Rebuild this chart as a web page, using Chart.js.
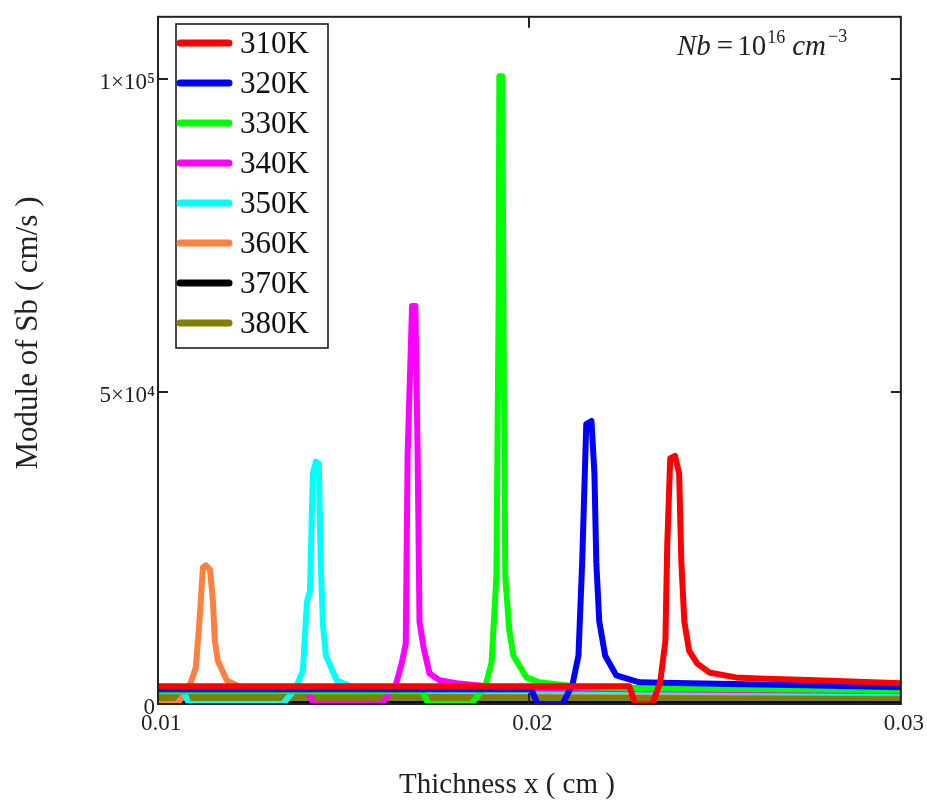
<!DOCTYPE html>
<html>
<head>
<meta charset="utf-8">
<script src="https://cdn.jsdelivr.net/npm/chart.js@4.4.0/dist/chart.umd.min.js"></script>
<style>
  html, body { margin: 0; padding: 0; background: #fff; }
  canvas { display: block; }
</style>
</head>
<body>
<canvas id="chart" width="927" height="804"></canvas>
<script>
// values (x in cm, |Sb| in cm/s)
const temps = ['310K', '320K', '330K', '340K', '350K', '360K', '370K', '380K'];
const colors = ['#ff0000', '#0000ff', '#00ff00', '#ff00ff', '#00ffff', '#ff8040', '#000000', '#808000'];

const x310 = [0.01, 0.02269, 0.02285, 0.02331, 0.02352, 0.02366, 0.02371, 0.02379, 0.02392, 0.02403, 0.02409, 0.02417, 0.02430, 0.02452, 0.02484, 0.02556, 0.02618, 0.02772, 0.03];
const y310 = [2840, 2840, 0, 0, 3470, 10100, 25400, 39300, 39700, 36900, 22700, 13200, 8500, 6460, 5050, 4260, 4100, 3790, 3310];

const x320 = [0.01, 0.02005, 0.02022, 0.02089, 0.02116, 0.02132, 0.02142, 0.02153, 0.02167, 0.02175, 0.02180, 0.02188, 0.02204, 0.02234, 0.02296, 0.02430, 0.02745, 0.03];
const y320 = [2370, 2370, 0, 0, 3150, 7730, 22700, 44800, 45300, 36900, 22700, 13200, 7730, 4570, 3470, 3310, 3000, 2680];

const x330 = [0.01, 0.01712, 0.01728, 0.01844, 0.01882, 0.01898, 0.01911, 0.01917, 0.01919, 0.01927, 0.01930, 0.01935, 0.01946, 0.01957, 0.01992, 0.02027, 0.02142, 0.02323, 0.03];
const y330 = [2050, 2050, 0, 0, 3000, 6620, 20300, 63700, 100500, 100500, 63700, 20300, 11700, 7730, 4260, 3470, 2680, 2520, 2210];

const x340 = [0.01, 0.01403, 0.01419, 0.01602, 0.01640, 0.01656, 0.01667, 0.01672, 0.01684, 0.01693, 0.01699, 0.01704, 0.01715, 0.01731, 0.01758, 0.01804, 0.01938, 0.03];
const y340 = [2050, 2050, 0, 0, 3000, 6460, 9620, 40000, 63700, 63700, 40000, 13200, 9000, 4890, 3790, 3310, 2520, 2050];

const x350 = [0.01, 0.01070, 0.01083, 0.01336, 0.01371, 0.01390, 0.01401, 0.01409, 0.01417, 0.01425, 0.01433, 0.01438, 0.01444, 0.01452, 0.01481, 0.01524, 0.01651, 0.03];
const y350 = [2050, 2050, 0, 0, 2520, 5360, 16400, 18000, 36900, 38800, 38500, 22700, 12800, 7730, 3790, 2680, 2210, 1890];

const x360 = [0.01, 0.01051, 0.01083, 0.01102, 0.01113, 0.01121, 0.01129, 0.01140, 0.01148, 0.01153, 0.01161, 0.01185, 0.01239, 0.03];
const y360 = [0, 0, 2520, 5840, 14400, 21900, 22200, 21500, 16400, 10100, 6940, 3790, 2210, 1730];

const x370 = [0.01, 0.03];
const y370 = [0, 0];

const x380 = [0.01, 0.03];
const y380 = [1100, 1100];

const seriesX = [x310, x320, x330, x340, x350, x360, x370, x380];
const seriesY = [y310, y320, y330, y340, y350, y360, y370, y380];

const xTickValues = [0.01, 0.02, 0.03];
const yTickValues = [0, 50000, 100000];
const yTickLabels = ['0', '5×10⁴', '1×10⁵'];

const SERIF = "'Liberation Serif', 'Times New Roman', serif";
const TEXT = '#222';

// frame box with inward tick marks
const framePlugin = {
  id: 'frame',
  afterDatasetsDraw(chart) {
    const { ctx, chartArea: a, scales: { x, y } } = chart;
    ctx.save();
    ctx.strokeStyle = '#222';
    ctx.lineWidth = 2;
    ctx.strokeRect(a.left, a.top, a.right - a.left, a.bottom - a.top);
    ctx.beginPath();
    yTickValues.slice(1).forEach(v => {
      const py = Math.round(y.getPixelForValue(v));
      ctx.moveTo(a.left, py); ctx.lineTo(a.left + 10, py);
      ctx.moveTo(a.right, py); ctx.lineTo(a.right - 10, py);
    });
    xTickValues.slice(1, -1).forEach(v => {
      const px = Math.round(x.getPixelForValue(v));
      ctx.moveTo(px, a.top); ctx.lineTo(px, a.top + 11);
      ctx.moveTo(px, a.bottom); ctx.lineTo(px, a.bottom - 11);
    });
    ctx.stroke();
    ctx.restore();
  }
};

// legend box, axis titles and the Nb note
const textPlugin = {
  id: 'texts',
  afterDraw(chart) {
    const ctx = chart.ctx;
    ctx.save();

    // legend
    ctx.fillStyle = '#fff';
    ctx.fillRect(176, 24, 152, 324);
    ctx.strokeStyle = '#111';
    ctx.lineWidth = 1.5;
    ctx.strokeRect(176, 24, 152, 324);
    chart.data.datasets.forEach((ds, i) => {
      const ry = 43 + i * 40;
      ctx.strokeStyle = ds.borderColor;
      ctx.lineWidth = 7;
      ctx.lineCap = 'round';
      ctx.beginPath();
      ctx.moveTo(180, ry); ctx.lineTo(229, ry);
      ctx.stroke();
      ctx.fillStyle = '#111';
      ctx.font = '31px ' + SERIF;
      ctx.textAlign = 'left';
      ctx.textBaseline = 'alphabetic';
      ctx.fillText(ds.label, 240, ry + 10);
    });

    // axis titles
    ctx.fillStyle = TEXT;
    ctx.font = '29px ' + SERIF;
    ctx.textAlign = 'center';
    ctx.textBaseline = 'alphabetic';
    ctx.fillText('Thichness x ( cm )', 507, 793);

    ctx.save();
    ctx.translate(37, 333);
    ctx.rotate(-Math.PI / 2);
    ctx.font = '31px ' + SERIF;
    ctx.fillText('Module of Sb ( cm/s )', 0, 0);
    ctx.restore();

    // Nb = 10^16 cm^-3, laid out piece by piece
    ctx.textAlign = 'left';
    ctx.fillStyle = '#222';
    const parts = [
      { t: 'Nb', f: 'italic 29px', dy: 0, gap: 6 },
      { t: '=', f: '29px', dy: 0, gap: 4 },
      { t: '10', f: '29px', dy: 0, gap: 1 },
      { t: '16', f: '18px', dy: -12, gap: 7 },
      { t: 'cm', f: 'italic 29px', dy: 0, gap: 2 },
      { t: '−3', f: '18px', dy: -13, gap: 0 }
    ];
    let cx = 677;
    parts.forEach(p => {
      ctx.font = p.f + ' ' + SERIF;
      ctx.fillText(p.t, cx, 55 + p.dy);
      cx += ctx.measureText(p.t).width + p.gap;
    });

    ctx.restore();
  }
};

const datasets = temps.map((t, i) => ({
  label: t,
  data: seriesX[i].map((xv, j) => ({ x: xv, y: seriesY[i][j] })),
  borderColor: colors[i],
  backgroundColor: colors[i],
  borderWidth: i === 7 ? 8 : 6,
  pointRadius: 0,
  tension: 0,
  fill: false,
  clip: 0,
  borderJoinStyle: 'round'
}));

new Chart(document.getElementById('chart').getContext('2d'), {
  type: 'line',
  data: { datasets: datasets },
  options: {
    responsive: false,
    animation: false,
    devicePixelRatio: 1,
    layout: { padding: { top: 6, right: 25, left: 0, bottom: 0 } },
    plugins: { legend: { display: false }, tooltip: { enabled: false } },
    scales: {
      x: {
        type: 'linear',
        min: 0.01,
        max: 0.03,
        grid: { display: false, drawTicks: false },
        border: { display: false },
        afterBuildTicks: s => { s.ticks = xTickValues.map(v => ({ value: v })); },
        afterFit: s => { s.height = 100; },
        ticks: {
          color: TEXT,
          padding: 6,
          labelOffset: 3,
          maxRotation: 0,
          font: { family: SERIF, size: 23 },
          callback: v => v.toFixed(2)
        }
      },
      y: {
        min: 0,
        max: 110000,
        grid: { display: false, drawTicks: false },
        border: { display: false },
        afterBuildTicks: s => { s.ticks = yTickValues.map(v => ({ value: v })); },
        afterFit: s => { s.width = 158; },
        ticks: {
          color: TEXT,
          padding: 3,
          labelOffset: 4,
          font: { family: SERIF, size: 23 },
          callback: v => yTickLabels[yTickValues.indexOf(v)]
        }
      }
    }
  },
  plugins: [framePlugin, textPlugin]
});
</script>
</body>
</html>
